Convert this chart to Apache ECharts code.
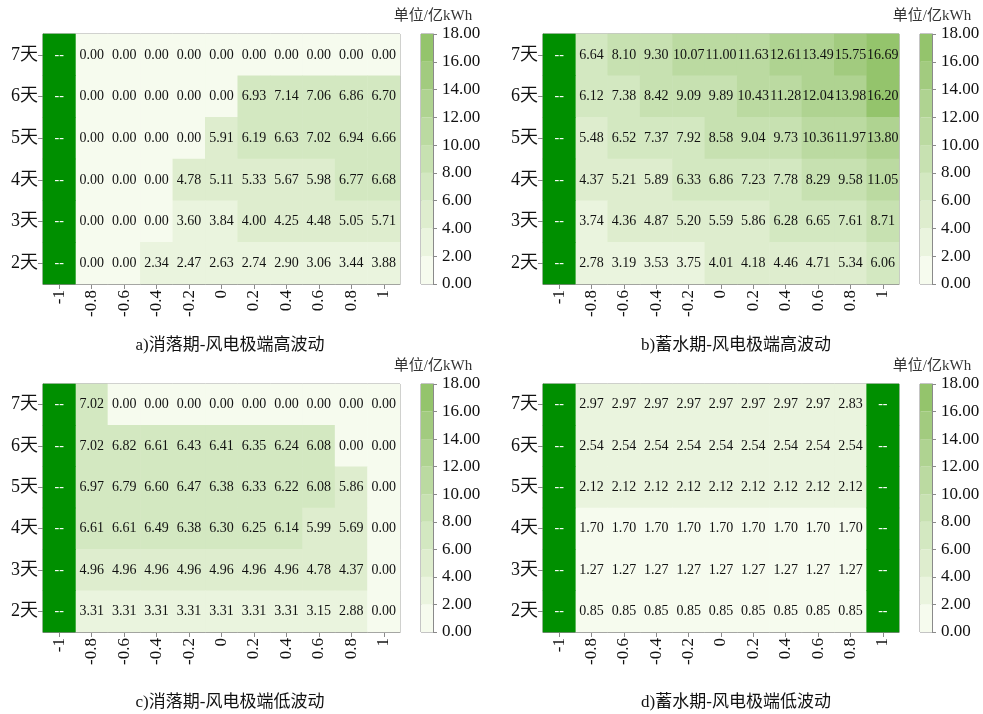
<!DOCTYPE html>
<html>
<head>
<meta charset="utf-8">
<script src="https://cdn.jsdelivr.net/npm/echarts@6/dist/echarts.min.js"></script>
<style>html,body{margin:0;padding:0;background:#fff}#c{width:983px;height:714px}</style>
</head>
<body>
<div id="c"></div>
<script>
// ---------- data ----------
const xCats = ['-1','-0.8','-0.6','-0.4','-0.2','0','0.2','0.4','0.6','0.8','1'];
const yCats = ['2天','3天','4天','5天','6天','7天'];
const binEdges = [0,2,4,6,8,10,12,14,16,18];
const binColors = ['#f6fbee','#eaf4de','#deedce','#d3e8c1','#c7e1b1','#bbdaa1','#afd391','#a2cb7f','#94c46c'];
const panelTitles = ['a)消落期-风电极端高波动','b)蓄水期-风电极端高波动','c)消落期-风电极端低波动','d)蓄水期-风电极端低波动'];
const unitLabel = '单位/亿kWh';
// rows listed from 7天 (top) down to 2天 (bottom); null = "--"
const panelA = [
  [null,0,0,0,0,0,0,0,0,0,0],
  [null,0,0,0,0,0,6.93,7.14,7.06,6.86,6.70],
  [null,0,0,0,0,5.91,6.19,6.63,7.02,6.94,6.66],
  [null,0,0,0,4.78,5.11,5.33,5.67,5.98,6.77,6.68],
  [null,0,0,0,3.60,3.84,4.00,4.25,4.48,5.05,5.71],
  [null,0,0,2.34,2.47,2.63,2.74,2.90,3.06,3.44,3.88]
];
const panelB = [
  [null,6.64,8.10,9.30,10.07,11.00,11.63,12.61,13.49,15.75,16.69],
  [null,6.12,7.38,8.42,9.09,9.89,10.43,11.28,12.04,13.98,16.20],
  [null,5.48,6.52,7.37,7.92,8.58,9.04,9.73,10.36,11.97,13.80],
  [null,4.37,5.21,5.89,6.33,6.86,7.23,7.78,8.29,9.58,11.05],
  [null,3.74,4.36,4.87,5.20,5.59,5.86,6.28,6.65,7.61,8.71],
  [null,2.78,3.19,3.53,3.75,4.01,4.18,4.46,4.71,5.34,6.06]
];
const panelC = [
  [null,7.02,0,0,0,0,0,0,0,0,0],
  [null,7.02,6.82,6.61,6.43,6.41,6.35,6.24,6.08,0,0],
  [null,6.97,6.79,6.60,6.47,6.38,6.33,6.22,6.08,5.86,0],
  [null,6.61,6.61,6.49,6.38,6.30,6.25,6.14,5.99,5.69,0],
  [null,4.96,4.96,4.96,4.96,4.96,4.96,4.96,4.78,4.37,0],
  [null,3.31,3.31,3.31,3.31,3.31,3.31,3.31,3.15,2.88,0]
];
const panelD = [
  [null,2.97,2.97,2.97,2.97,2.97,2.97,2.97,2.97,2.83,null],
  [null,2.54,2.54,2.54,2.54,2.54,2.54,2.54,2.54,2.54,null],
  [null,2.12,2.12,2.12,2.12,2.12,2.12,2.12,2.12,2.12,null],
  [null,1.70,1.70,1.70,1.70,1.70,1.70,1.70,1.70,1.70,null],
  [null,1.27,1.27,1.27,1.27,1.27,1.27,1.27,1.27,1.27,null],
  [null,0.85,0.85,0.85,0.85,0.85,0.85,0.85,0.85,0.85,null]
];
const panels = [panelA, panelB, panelC, panelD];

// ---------- layout ----------
const FONT = '"Liberation Serif","Times New Roman","Noto Sans CJK SC",serif';
const layouts = [
  {hl:43, ht:34, hw:357, hh:250, cl:421, tx:225, ty:332},
  {hl:543, ht:34, hw:356, hh:250, cl:920, tx:731, ty:332},
  {hl:43, ht:384, hw:357, hh:248, cl:421, tx:225, ty:689},
  {hl:543, ht:384, hw:356, hh:248, cl:920, tx:731, ty:689}
];
const AX = '#8a8a8a';
const missColor = '#008f00';

const grid = [], xAxis = [], yAxis = [], series = [], title = [], valueSeriesIdx = [];
layouts.forEach((L, p) => {
  const gh = 2*p, gc = 2*p+1;
  grid.push({left:L.hl, top:L.ht, width:L.hw, height:L.hh, show:true, borderColor:AX, borderWidth:1});
  grid.push({left:L.cl, top:L.ht, width:12, height:L.hh, show:true, borderColor:AX, borderWidth:1});
  xAxis.push({type:'category', gridIndex:gh, data:xCats, splitArea:{show:false},
    axisLine:{show:true, lineStyle:{color:AX}}, axisTick:{show:true, alignWithLabel:true, length:5, lineStyle:{color:AX}},
    axisLabel:{rotate:90, fontSize:17, color:'#111', fontFamily:FONT, margin:6}});
  yAxis.push({type:'category', gridIndex:gh, data:yCats, splitArea:{show:false},
    axisLine:{show:true, lineStyle:{color:AX}}, axisTick:{show:true, alignWithLabel:true, length:5, lineStyle:{color:AX}},
    axisLabel:{fontSize:18, color:'#111', fontFamily:FONT, margin:5}});
  xAxis.push({type:'category', gridIndex:gc, data:[''], show:false});
  yAxis.push({type:'value', gridIndex:gc, min:binEdges[0], max:binEdges[binEdges.length-1], interval:2, position:'right',
    axisLine:{show:true, lineStyle:{color:AX}}, axisTick:{show:true, length:4, lineStyle:{color:AX}},
    splitLine:{show:false},
    axisLabel:{fontSize:17, color:'#111', fontFamily:FONT, margin:9, formatter:v=>v.toFixed(2)},
    name:unitLabel, nameLocation:'end', nameGap:10,
    nameTextStyle:{fontSize:15, color:'#333', fontFamily:FONT, align:'center'}});
  const vals = [], miss = [];
  panels[p].forEach((row, r) => {
    const yi = yCats.length-1-r;
    row.forEach((v, xi) => { if (v === null) miss.push([xi, yi, 0]); else vals.push([xi, yi, v]); });
  });
  valueSeriesIdx.push(series.length);
  series.push({type:'heatmap', xAxisIndex:gh, yAxisIndex:gh, data:vals,
    label:{show:true, fontSize:14, color:'#111', fontFamily:FONT, formatter:d=>d.value[2].toFixed(2)},
    emphasis:{disabled:true}, itemStyle:{borderWidth:0}});
  series.push({type:'heatmap', xAxisIndex:gh, yAxisIndex:gh, data:miss,
    itemStyle:{color:missColor, borderWidth:0},
    label:{show:true, fontSize:14, color:'#fff', fontFamily:FONT, formatter:'--'},
    emphasis:{disabled:true}});
  binColors.forEach((c, k) => {
    series.push({type:'bar', xAxisIndex:gc, yAxisIndex:gc, stack:'cb'+p, barWidth:'100%',
      data:[binEdges[k+1]-binEdges[k]], itemStyle:{color:c}, silent:true, animation:false});
  });
  title.push({text:panelTitles[p], left:L.tx, top:L.ty, textAlign:'center',
    textStyle:{fontSize:17, fontWeight:'normal', color:'#111', fontFamily:FONT}});
});

const chart = echarts.init(document.getElementById('c'), null, {renderer:'canvas'});
chart.setOption({
  animation:false,
  title, grid, xAxis, yAxis, series,
  visualMap:{type:'piecewise', show:false, seriesIndex:valueSeriesIdx,
    pieces: binColors.map((c,k)=> k===binColors.length-1 ? {gte:binEdges[k], lte:binEdges[k+1], color:c} : {gte:binEdges[k], lt:binEdges[k+1], color:c})}
});
</script>
</body>
</html>
